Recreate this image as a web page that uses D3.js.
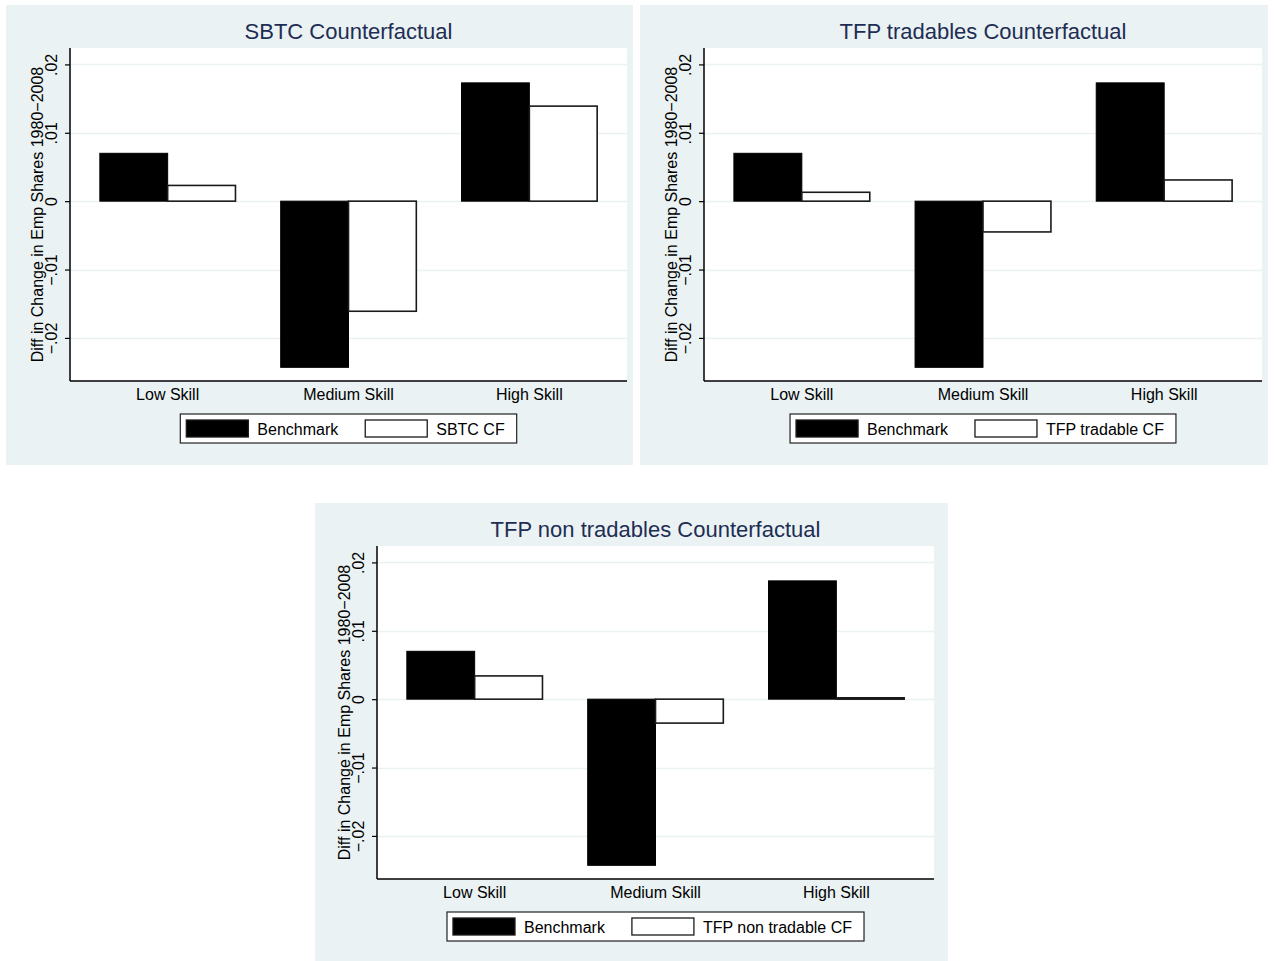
<!DOCTYPE html>
<html>
<head>
<meta charset="utf-8">
<script src="https://cdn.jsdelivr.net/npm/d3@7"></script>
<style>
  html, body { margin: 0; padding: 0; background: #ffffff; }
  svg { display: block; }
  text { font-family: "Liberation Sans", Arial, Helvetica, sans-serif; }
</style>
</head>
<body>
<svg id="chart" width="1274" height="961"></svg>
<script>
// ---------------- data ----------------
const categories = ["Low Skill", "Medium Skill", "High Skill"];
const benchmark = [0.0070, -0.0243, 0.0173];
const sbtcCF = [0.0023, -0.0161, 0.0139];
const tfpTradableCF = [0.0013, -0.0045, 0.0031];
const tfpNonTradableCF = [0.0034, -0.0035, 0.0002];
const yTickValues = [-0.02, -0.01, 0, 0.01, 0.02];
const yTickLabels = ["\u2212.02", "\u2212.01", "0", ".01", ".02"];
const yAxisTitle = "Diff in Change in Emp Shares 1980\u22122008";
const panelTitles = ["SBTC Counterfactual", "TFP tradables Counterfactual", "TFP non tradables Counterfactual"];
const seriesNames = ["Benchmark", "SBTC CF", "TFP tradable CF", "TFP non tradable CF"];

// ---------------- styles ----------------
const BG = "#eaf2f3";
const GRID = "#eaf2f3";
const TITLE_COLOR = "#1e2d53";

const svg = d3.select("#chart");

const panels = [
  { title: panelTitles[0], cf: sbtcCF, cfName: seriesNames[1],
    bg: [6, 5, 627, 460], plot: [70, 48, 627, 381] },
  { title: panelTitles[1], cf: tfpTradableCF, cfName: seriesNames[2],
    bg: [640, 5, 628, 460], plot: [704, 48, 1262, 381] },
  { title: panelTitles[2], cf: tfpNonTradableCF, cfName: seriesNames[3],
    bg: [315, 503, 633, 458], plot: [377, 546, 934, 879] }
];

panels.forEach(p => drawPanel(p));

function drawPanel(p) {
  const [bx, by, bw, bh] = p.bg;
  const [x0, y0, x1, y1] = p.plot;
  const g = svg.append("g");

  g.append("rect").attr("x", bx).attr("y", by).attr("width", bw).attr("height", bh).attr("fill", BG);
  g.append("rect").attr("x", x0).attr("y", y0).attr("width", x1 - x0).attr("height", y1 - y0).attr("fill", "#ffffff");

  const y = d3.scaleLinear().domain([-0.0263, 0.0224]).range([y1, y0]);
  const xBand = d3.scaleBand().domain(categories).range([x0, x1]).paddingInner(0.25).paddingOuter(0.165);
  const xSub = d3.scaleBand().domain(["bench", "cf"]).range([0, xBand.bandwidth()]);

  // grid
  g.append("g").selectAll("line").data(yTickValues).join("line")
    .attr("x1", x0).attr("x2", x1)
    .attr("y1", d => Math.round(y(d)) + 0.5).attr("y2", d => Math.round(y(d)) + 0.5)
    .attr("stroke", GRID).attr("stroke-width", 1.5);

  // title
  g.append("text").attr("x", (x0 + x1) / 2).attr("y", y0 - 9)
    .attr("text-anchor", "middle").attr("font-size", 22).attr("fill", TITLE_COLOR)
    .text(p.title);

  const rows = categories.map((c, i) => ({ cat: c, bench: benchmark[i], cf: p.cf[i] }));

  // benchmark bars
  g.append("g").selectAll("rect").data(rows).join("rect")
    .attr("x", d => xBand(d.cat) + xSub("bench"))
    .attr("width", xSub.bandwidth())
    .attr("y", d => y(Math.max(0, d.bench)))
    .attr("height", d => Math.abs(y(d.bench) - y(0)))
    .attr("fill", "#000000").attr("stroke", "#000000").attr("stroke-width", 1);

  // CF bars
  g.append("g").selectAll("rect").data(rows).join("rect")
    .attr("x", d => xBand(d.cat) + xSub("cf"))
    .attr("width", xSub.bandwidth())
    .attr("y", d => y(Math.max(0, d.cf)))
    .attr("height", d => Math.max(0.5, Math.abs(y(d.cf) - y(0))))
    .attr("fill", "#ffffff").attr("stroke", "#1a1a1a").attr("stroke-width", 1.6);

  // y axis
  const yAxis = d3.axisLeft(y).tickValues(yTickValues).tickSize(5).tickSizeOuter(0)
    .tickFormat((d, i) => yTickLabels[i]);
  const ya = g.append("g").attr("transform", `translate(${x0},0)`).call(yAxis);
  ya.select(".domain").attr("stroke", "#000").attr("stroke-width", 1.5)
    .attr("d", `M0,${y0}V${y1}`);
  ya.selectAll(".tick line").attr("stroke", "#000").attr("stroke-width", 1.2);
  ya.selectAll(".tick text")
    .attr("font-size", 16).attr("fill", "#000")
    .attr("text-anchor", "middle")
    .attr("x", null).attr("dy", null)
    .attr("transform", "translate(-13,0) rotate(-90)")
    .attr("y", 0);

  // y axis title
  g.append("text")
    .attr("transform", `translate(${x0 - 27},${(y0 + y1) / 2}) rotate(-90)`)
    .attr("text-anchor", "middle").attr("font-size", 16).attr("fill", "#000")
    .text(yAxisTitle);

  // x axis
  const xAxis = d3.axisBottom(xBand).tickSize(0).tickPadding(0);
  const xa = g.append("g").attr("transform", `translate(0,${y1})`).call(xAxis);
  xa.select(".domain").attr("stroke", "#000").attr("stroke-width", 1.5)
    .attr("d", `M${x0},0H${x1}`);
  xa.selectAll(".tick text").attr("font-size", 16).attr("fill", "#000").attr("y", 19).attr("dy", null);

  // legend
  const lg = g.append("g");
  const ly = y1 + 33, lh = 29;
  const padL = 6, swW = 62, swH = 17, gapT = 9, colGap = 27, padR = 12;
  const items = [{ name: seriesNames[0], fill: "#000" }, { name: p.cfName, fill: "#fff" }];
  const tmp = lg.append("g");
  const widths = items.map(it => {
    const t = tmp.append("text").attr("font-size", 16).text(it.name);
    const w = t.node().getComputedTextLength();
    t.remove();
    return w;
  });
  tmp.remove();
  const totalW = padL + swW + gapT + widths[0] + colGap + swW + gapT + widths[1] + padR;
  const lx = (x0 + x1) / 2 - totalW / 2;
  lg.append("rect").attr("x", lx).attr("y", ly).attr("width", totalW).attr("height", lh)
    .attr("fill", "#fff").attr("stroke", "#222").attr("stroke-width", 1.2);
  let cx = lx + padL;
  items.forEach((it, i) => {
    lg.append("rect").attr("x", cx).attr("y", ly + (lh - swH) / 2).attr("width", swW).attr("height", swH)
      .attr("fill", it.fill).attr("stroke", "#1a1a1a").attr("stroke-width", 1.3);
    cx += swW + gapT;
    lg.append("text").attr("x", cx).attr("y", ly + lh / 2 + 6).attr("font-size", 16).attr("fill", "#000").text(it.name);
    cx += widths[i] + colGap;
  });
}
</script>
</body>
</html>
